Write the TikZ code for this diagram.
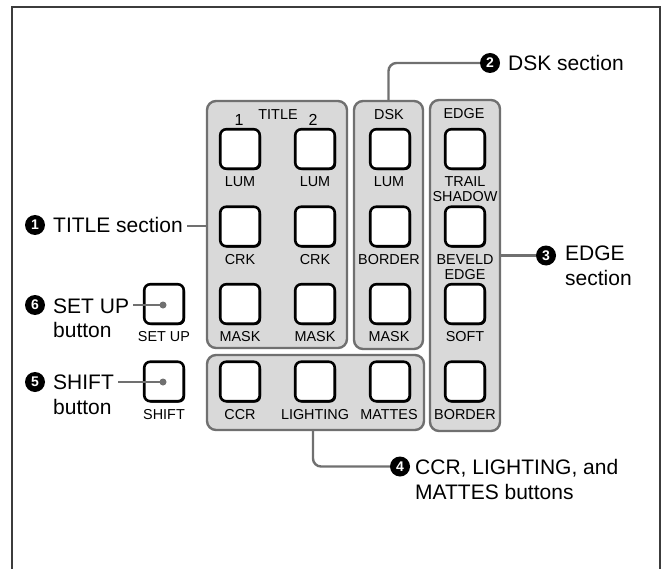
\documentclass[tikz,border=0pt]{standalone}
\usepackage{fontspec}
\setmainfont{Liberation Sans}
\usetikzlibrary{shadows}
\definecolor{pgray}{RGB}{112,112,112}
\definecolor{pfill}{RGB}{217,217,217}
\definecolor{framec}{RGB}{60,60,60}
\begin{document}
\begin{tikzpicture}[x=1pt,y=-1pt,
  panel/.style={draw=pgray, fill=pfill, line width=2.4pt, rounded corners=9pt, inner sep=0pt},
  btn/.style={draw=black, fill=white, line width=2.6pt, rounded corners=6pt,
    minimum width=39.5pt, minimum height=39.5pt, inner sep=0pt,
    general shadow={fill=black, shadow xshift=1.3pt, shadow yshift=-1.3pt}},
  lab/.style={font=\fontsize{14.4}{15}\selectfont, inner sep=0pt, align=center},
  big/.style={font=\fontsize{21}{24.5}\selectfont, inner sep=0pt, align=left, anchor=base west},
  num/.style={circle, fill=black, text=white, font=\bfseries\fontsize{14}{14}\selectfont,
    inner sep=0pt, minimum size=20pt},
  leader/.style={draw=pgray, line width=2.4pt, rounded corners=8pt},
  dot/.style={circle, fill=pgray, inner sep=0pt, minimum size=7pt},
  frame/.style={draw=framec, line width=1.6pt}
]
\useasboundingbox (0,0) rectangle (663,569);
% outer frame (open at the bottom)
\draw[frame] (12,569) -- (12,7) -- (660,7) -- (660,569);

% panels
\node[panel, minimum width=140pt, minimum height=247pt] (ptitle) at (277,224.5) {};
\node[panel, minimum width=69pt, minimum height=248pt] (pdsk) at (388.5,225) {};
\node[panel, minimum width=70pt, minimum height=331pt] (pedge) at (465,265.5) {};
\node[panel, minimum width=217pt, minimum height=75pt] (pccr) at (315.5,392.5) {};

% buttons
\foreach \c/\x in {1/240,2/315,3/390,4/465}
  \foreach \r/\y in {1/149,2/226.5,3/304,4/381.5}
    \node[btn] (b\c\r) at (\x,\y) {};
\node[btn] (bsetup) at (164,304) {};
\node[btn] (bshift) at (164,381.5) {};

% panel header labels
\node[lab, font=\fontsize{16}{16}\selectfont] (l1) at (239,120) {1};
\node[lab] (ltitle) at (278,115) {TITLE};
\node[lab, font=\fontsize{16}{16}\selectfont] (l2) at (313,120) {2};
\node[lab] (ldsk) at (389,115) {DSK};
\node[lab] (ledge) at (464,114) {EDGE};

% button labels
\node[lab] at (240,182) {LUM};
\node[lab] at (315,182) {LUM};
\node[lab] at (389,182) {LUM};
\node[lab] at (240,260) {CRK};
\node[lab] at (315,260) {CRK};
\node[lab] at (389,260) {BORDER};
\node[lab] at (240,337) {MASK};
\node[lab] at (315,337) {MASK};
\node[lab] at (389,337) {MASK};
\node[lab] at (240,415) {CCR};
\node[lab] at (315,415) {LIGHTING};
\node[lab] at (389,415) {MATTES};
\node[lab] at (465,189.5) {TRAIL\\SHADOW};
\node[lab] at (465,267.5) {BEVELD\\EDGE};
\node[lab] at (465,337) {SOFT};
\node[lab] at (465,415) {BORDER};
\node[lab] at (164,337) {SET UP};
\node[lab] at (164,415) {SHIFT};

% callouts (base anchor of a two-line node is its last line)
\node[num] (n1) at (35,225) {1};
\node[big] (t1) at (53,232.5) {TITLE section};
\node[num] (n2) at (490,63) {2};
\node[big] (t2) at (508,70.5) {DSK section};
\node[num] (n3) at (546,255.5) {3};
\node[big] (t3) at (565,285) {EDGE\\section};
\node[num] (n4) at (400,466.5) {4};
\node[big] (t4) at (415,499) {CCR, LIGHTING, and\\MATTES buttons};
\node[num] (n6) at (35,305) {6};
\node[big] (t6) at (53,337.5) {SET UP\\button};
\node[num] (n5) at (35,382) {5};
\node[big] (t5) at (53,414) {SHIFT\\button};

% leaders
\coordinate (c1) at (187,226);
\draw[leader] (c1) -- (c1 -| ptitle.west);
\draw[leader] (pdsk.north) |- (n2.west);
\draw[leader] (pedge.east |- n3) -- (n3.west);
\draw[leader] (313,0 |- pccr.south) |- (n4.west);
\node[dot] (dsetup) at (163,305) {};
\node[dot] (dshift) at (163,382) {};
\coordinate (c6) at (133,305);
\coordinate (c5) at (118,382);
\draw[leader] (c6) -- (dsetup.center);
\draw[leader] (c5) -- (dshift.center);
\end{tikzpicture}
\end{document}
